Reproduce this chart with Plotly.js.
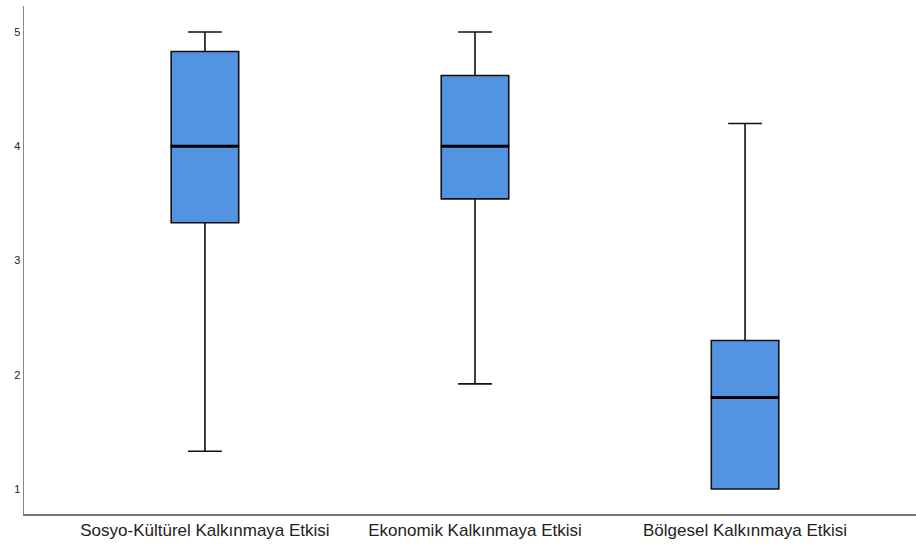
<!DOCTYPE html>
<html><head><meta charset="utf-8">
<script src="https://cdn.plot.ly/plotly-3.0.1.min.js"></script>
<style>html,body{margin:0;padding:0;background:#fff}</style>
</head><body><div id="chart" style="width:916px;height:547px"></div>
<script>
const categories = ["Sosyo-Kültürel Kalkınmaya Etkisi", "Ekonomik Kalkınmaya Etkisi", "Bölgesel Kalkınmaya Etkisi"];
const lowerWhisker = [1.33, 1.92, 1.0];
const q1 = [3.33, 3.54, 1.0];
const median = [4.0, 4.0, 1.8];
const q3 = [4.83, 4.62, 2.3];
const upperWhisker = [5.0, 5.0, 4.2];
const yTicks = [1, 2, 3, 4, 5];

const boxTrace = {
  type: 'box',
  x: categories,
  q1: q1, median: median, q3: q3,
  lowerfence: lowerWhisker, upperfence: upperWhisker,
  fillcolor: 'rgb(83,148,226)',
  line: {color: '#111', width: 1.6},
  width: 0.25,
  whiskerwidth: 0.5,
  boxpoints: false,
  hoverinfo: 'skip',
  showlegend: false
};
const medianTrace = {
  type: 'scatter', mode: 'markers',
  x: categories, y: median,
  marker: {symbol: 'line-ew', size: 49, line: {color: '#000', width: 3}},
  hoverinfo: 'skip', showlegend: false
};

const layout = {
  width: 916, height: 547,
  margin: {l: 24, r: 0, t: 6, b: 33},
  paper_bgcolor: '#fff', plot_bgcolor: '#fff',
  font: {family: 'Liberation Sans, Arial, sans-serif', color: '#222'},
  xaxis: {
    type: 'category', range: [-0.67, 2.633],
    showgrid: false, zeroline: false,
    showline: true, linecolor: '#777', linewidth: 1.5,
    ticks: '', tickfont: {size: 17, color: '#222'}
  },
  yaxis: {
    range: [0.781, 5.228],
    tickvals: yTicks, ticktext: yTicks.map(String),
    showgrid: false, zeroline: false,
    showline: true, linecolor: '#888', linewidth: 1.5,
    ticks: '', tickfont: {size: 11, color: '#222'}
  }
};
Plotly.newPlot('chart', [boxTrace, medianTrace], layout, {displayModeBar: false, staticPlot: true});
</script></body></html>
